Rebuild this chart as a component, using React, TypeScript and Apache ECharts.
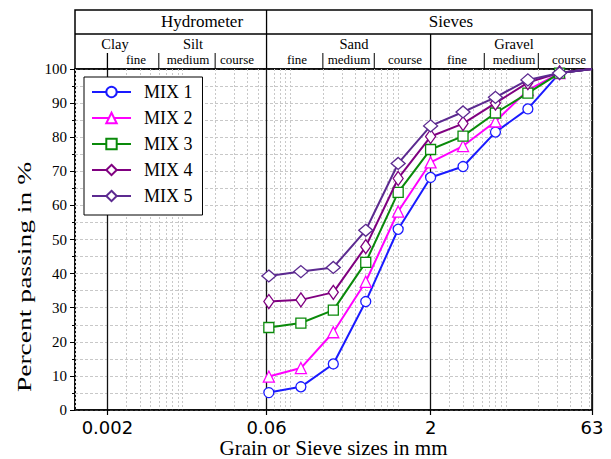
import React, { useEffect, useRef } from 'react';
import * as echarts from 'echarts';

// ---- data ----
const sieveSizes = [0.063, 0.125, 0.25, 0.5, 1, 2, 4, 8, 16, 31.5, 63];
const mix1 = [5.1, 6.8, 13.5, 31.8, 53.0, 68.2, 71.4, 81.5, 88.3, 98.8, 100];
const mix2 = [9.8, 12.3, 22.8, 37.6, 58.2, 72.6, 77.4, 84.6, 93.8, 98.8, 100];
const mix3 = [24.2, 25.5, 29.3, 43.3, 63.8, 76.4, 80.3, 87.1, 92.9, 98.8, 100];
const mix4 = [31.8, 32.3, 34.5, 47.9, 67.9, 80.2, 84.0, 90.0, 96.0, 98.9, 100];
const mix5 = [39.3, 40.6, 41.8, 52.7, 72.3, 83.3, 87.4, 91.7, 96.8, 98.8, 100];
const seriesNames = ['MIX 1', 'MIX 2', 'MIX 3', 'MIX 4', 'MIX 5'];
const xTickValues = [0.002, 0.06, 2, 63];
const subClassBounds = [0.006, 0.02, 0.2, 0.6, 6.3, 20];
const xMin = 0.001;
const xMax = 63;

// minor log grid values (n x 10^k)
const minorGridValues: number[] = [];
for (let k = -3; k <= 1; k++) {
  for (let n = 1; n <= 9; n++) {
    const v = +(n * Math.pow(10, k)).toPrecision(6);
    if (v >= xMin && v <= xMax) minorGridValues.push(v);
  }
}

const colors = ['#1a1aff', '#ff00ff', '#0a8a0a', '#800080', '#5c2a90'];
const symbols = ['circle', 'triangle', 'rect', 'diamond', 'diamond'];
const symbolSizes: any[] = [10, 11, 10, [10, 14], [14, 12]];
const allMixes = [mix1, mix2, mix3, mix4, mix5];

const SERIF = 'Liberation Serif';

const fmt = (v: number) => String(+Number(v).toPrecision(6));

export default function App() {
  const ref = useRef<HTMLDivElement>(null);
  useEffect(() => {
    const chart = echarts.init(ref.current!, null, { renderer: 'svg' });
    const series = allMixes.map((vals, si) => ({
      name: seriesNames[si],
      type: 'line',
      xAxisIndex: 1,
      yAxisIndex: 0,
      data: sieveSizes.map((s, i) =>
        s >= xMax ? { value: [s, vals[i]], symbol: 'none' } : [s, vals[i]]
      ),
      symbol: symbols[si],
      symbolSize: symbolSizes[si],
      lineStyle: { color: colors[si], width: 2 },
      itemStyle: { color: '#ffffff', borderColor: colors[si], borderWidth: 1.3 },
      z: 3 + si,
    }));

    chart.setOption({
      animation: false,
      backgroundColor: '#ffffff',
      textStyle: { fontFamily: SERIF },
      grid: {
        left: 75,
        right: 19,
        top: 69,
        bottom: 49,
        show: true,
        borderColor: '#000',
        borderWidth: 1.5,
        containLabel: false,
        outerBoundsMode: 'none',
      },
      legend: {
        orient: 'vertical',
        left: 84,
        top: 77,
        data: seriesNames,
        itemWidth: 39,
        itemHeight: 13,
        itemGap: 8,
        padding: [6, 10, 10, 7],
        backgroundColor: '#ffffff',
        borderColor: '#000',
        borderWidth: 1,
        textStyle: {
          fontFamily: SERIF,
          fontSize: 18,
          color: '#000',
          lineHeight: 18,
          padding: [0, 0, 0, 8],
        },
      },
      xAxis: [
        {
          type: 'log',
          logBase: 10,
          min: xMin,
          max: xMax,
          gridIndex: 0,
          position: 'top',
          z: 1,
          axisLine: { show: false },
          axisTick: { show: false, customValues: minorGridValues },
          axisLabel: { show: false },
          splitLine: {
            show: true,
            lineStyle: { color: '#c8c8c8', type: [2, 2], width: 1 },
          },
        },
        {
          type: 'log',
          logBase: 10,
          min: xMin,
          max: xMax,
          gridIndex: 0,
          position: 'bottom',
          z: 2,
          axisLine: { show: true, onZero: false, lineStyle: { color: '#000', width: 1.5 } },
          axisTick: {
            show: true,
            customValues: xTickValues,
            length: 5,
            lineStyle: { color: '#000', width: 1.2 },
          },
          axisLabel: {
            customValues: xTickValues,
            formatter: (v: number) => fmt(v),
            fontFamily: 'DejaVu Sans',
            fontSize: 18,
            lineHeight: 18,
            color: '#000',
            margin: 8,
          },
          splitLine: { show: true, lineStyle: { color: '#111', width: 1.3 } },
          name: 'Grain or Sieve sizes in mm',
          nameLocation: 'middle',
          nameGap: 28,
          nameMoveOverlap: false,
          nameTextStyle: {
            fontFamily: SERIF,
            fontSize: 21,
            lineHeight: 20,
            color: '#000',
            verticalAlign: 'top',
          },
        },
      ],
      yAxis: {
        type: 'value',
        min: 0,
        max: 100,
        interval: 10,
        axisLine: { show: true, lineStyle: { color: '#000', width: 1.5 } },
        axisTick: { show: true, length: 5, lineStyle: { color: '#000' } },
        minorTick: { show: true, splitNumber: 2, length: 3, lineStyle: { color: '#000' } },
        axisLabel: { fontFamily: SERIF, fontSize: 15, color: '#000', margin: 8 },
        splitLine: { show: true, lineStyle: { color: '#c8c8c8', type: [3, 2] } },
        minorSplitLine: { show: true, lineStyle: { color: '#c8c8c8', type: [3, 2] } },
      },
      series,
    });

    // header table, aligned to the axis scale
    const px = (v: number) => chart.convertToPixel({ xAxisIndex: 1 }, v) as number;
    const left = 75;
    const right = 611 - 19;
    const top = 10;
    const mid = 34;
    const bottom = 69;
    const lineStyle = { stroke: '#000', lineWidth: 1.3 };
    const g: any[] = [];
    g.push({ type: 'rect', shape: { x: left, y: top, width: right - left, height: bottom - top }, style: { fill: 'none', stroke: '#000', lineWidth: 1.5 } });
    g.push({ type: 'line', shape: { x1: left, y1: mid, x2: right, y2: mid }, style: lineStyle });
    g.push({ type: 'line', shape: { x1: px(0.06), y1: top, x2: px(0.06), y2: bottom }, style: lineStyle });
    g.push({ type: 'line', shape: { x1: px(2), y1: mid, x2: px(2), y2: bottom }, style: lineStyle });
    g.push({ type: 'line', shape: { x1: px(0.002), y1: 53, x2: px(0.002), y2: bottom }, style: lineStyle });
    subClassBounds.forEach((b) => {
      g.push({ type: 'line', shape: { x1: px(b), y1: 53, x2: px(b), y2: bottom }, style: { stroke: '#000', lineWidth: 1 } });
    });
    const texts: [string, number, number, number][] = [
      ['Hydrometer', 202, 21.5, 17],
      ['Sieves', 451, 21.5, 17],
      ['Clay', 115, 43.5, 14.5],
      ['Silt', 193, 43.5, 14.5],
      ['Sand', 354, 43.5, 14.5],
      ['Gravel', 514, 43.5, 14.5],
      ['fine', 136, 59, 13],
      ['medium', 188, 59, 13],
      ['course', 237, 59, 13],
      ['fine', 297, 59, 13],
      ['medium', 349, 59, 13],
      ['course', 405, 59, 13],
      ['fine', 457, 59, 13],
      ['medium', 514, 59, 13],
      ['course', 569, 59, 13],
    ];
    texts.forEach(([t, x, y, s]) => {
      g.push({
        type: 'text',
        x,
        y,
        style: { text: t, font: `${s}px "${SERIF}"`, fill: '#000', align: 'center', verticalAlign: 'middle' },
      });
    });
    g.push({
      type: 'text',
      x: 25,
      y: 277,
      rotation: Math.PI / 2,
      scaleX: 1.45,
      style: { text: 'Percent passing in %', font: `19px "${SERIF}"`, fill: '#000', align: 'center', verticalAlign: 'middle' },
    });
    chart.setOption({ graphic: g });

    return () => chart.dispose();
  }, []);
  return (
    <div
      ref={ref}
      style={{ position: 'fixed', left: 0, top: 0, width: 611, height: 459, background: '#fff' }}
    />
  );
}
